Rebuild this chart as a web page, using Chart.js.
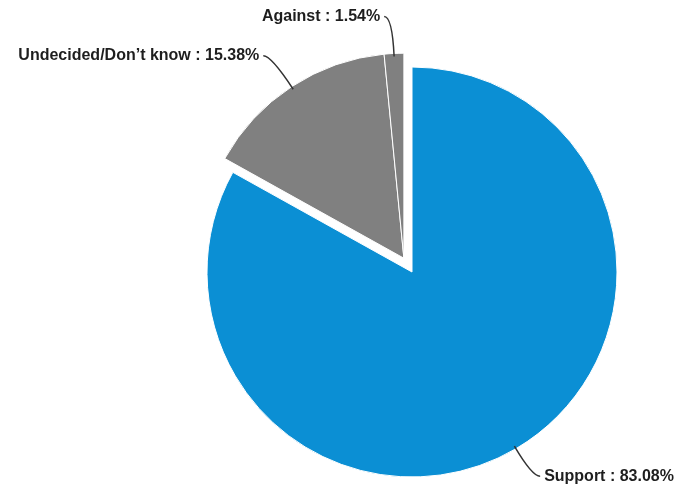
<!DOCTYPE html>
<html>
<head>
<meta charset="utf-8">
<script src="https://cdn.jsdelivr.net/npm/chart.js@4.4.1/dist/chart.umd.min.js"></script>
<style>
  html, body { margin: 0; padding: 0; background: #fff; }
</style>
</head>
<body>
<canvas id="pie" width="678" height="488"></canvas>
<script>
// Poll results, clockwise from 12 o'clock
const categories = ['Support', 'Undecided/Don’t know', 'Against'];
const shares = [83.08, 15.38, 1.54];
const sliceColors = ['#0b8fd4', '#808080', '#808080'];
const pulledOut = [1, 2]; // these slices are pulled out together as one block

// moves a group of slices out along the middle of the whole group
const groupExplode = {
  id: 'groupExplode',
  afterDatasetsUpdate(chart, args, opts) {
    const arcs = chart.getDatasetMeta(0).data;
    const group = opts.indices.map(i => arcs[i]);
    const start = Math.min(...group.map(a => a.startAngle));
    const end = Math.max(...group.map(a => a.endAngle));
    const mid = (start + end) / 2;
    group.forEach(arc => {
      arc.$dx = Math.cos(mid) * opts.distance;
      arc.$dy = Math.sin(mid) * opts.distance;
      if (!arc.$wrapped) {
        const draw = arc.draw;
        arc.draw = function (ctx) {
          ctx.save();
          ctx.translate(this.$dx, this.$dy);
          draw.call(this, ctx);
          ctx.restore();
        };
        arc.$wrapped = true;
      }
    });
  }
};

// "Name : xx.xx%" labels outside the pie with bent leader lines
const outsideLabels = {
  id: 'outsideLabels',
  afterDatasetsDraw(chart, args, opts) {
    const { ctx } = chart;
    const arcs = chart.getDatasetMeta(0).data;
    ctx.save();
    ctx.font = opts.font;
    ctx.strokeStyle = opts.lineColor;
    ctx.lineWidth = opts.lineWidth;
    ctx.fillStyle = opts.color;
    ctx.textBaseline = 'middle';
    arcs.forEach((arc, i) => {
      const mid = (arc.startAngle + arc.endAngle) / 2;
      const cx = arc.x + (arc.$dx || 0);
      const cy = arc.y + (arc.$dy || 0);
      const cos = Math.cos(mid), sin = Math.sin(mid);
      const r = arc.outerRadius;
      const side = cos >= 0 ? 1 : -1;
      const elbow = opts.elbow[i];
      const ax = cx + cos * (r - 3), ay = cy + sin * (r - 3);
      const ex = cx + cos * (r + elbow), ey = cy + sin * (r + elbow);
      const tx = ex + side * opts.reach;
      ctx.beginPath();
      ctx.moveTo(ax, ay);
      ctx.quadraticCurveTo(ex, ey, tx, ey);
      ctx.stroke();
      ctx.textAlign = side > 0 ? 'left' : 'right';
      ctx.fillText(`${categories[i]} : ${shares[i].toFixed(2)}%`, tx + side * 4, ey);
    });
    ctx.restore();
  }
};

new Chart(document.getElementById('pie'), {
  type: 'pie',
  data: {
    labels: categories,
    datasets: [{
      data: shares,
      backgroundColor: sliceColors,
      borderColor: '#ffffff',
      borderWidth: 1,
      radius: 205
    }]
  },
  options: {
    responsive: false,
    animation: false,
    layout: { padding: { left: 146, right: 0, top: 56, bottom: 0 } },
    plugins: {
      legend: { display: false },
      tooltip: { enabled: false },
      groupExplode: { indices: pulledOut, distance: 16 },
      outsideLabels: {
        font: 'bold 16px "Liberation Sans"',
        color: '#1e1e1e',
        lineColor: '#333333',
        lineWidth: 1.5,
        elbow: [32, 37, 37],
        reach: 8
      }
    }
  },
  plugins: [groupExplode, outsideLabels]
});
</script>
</body>
</html>
